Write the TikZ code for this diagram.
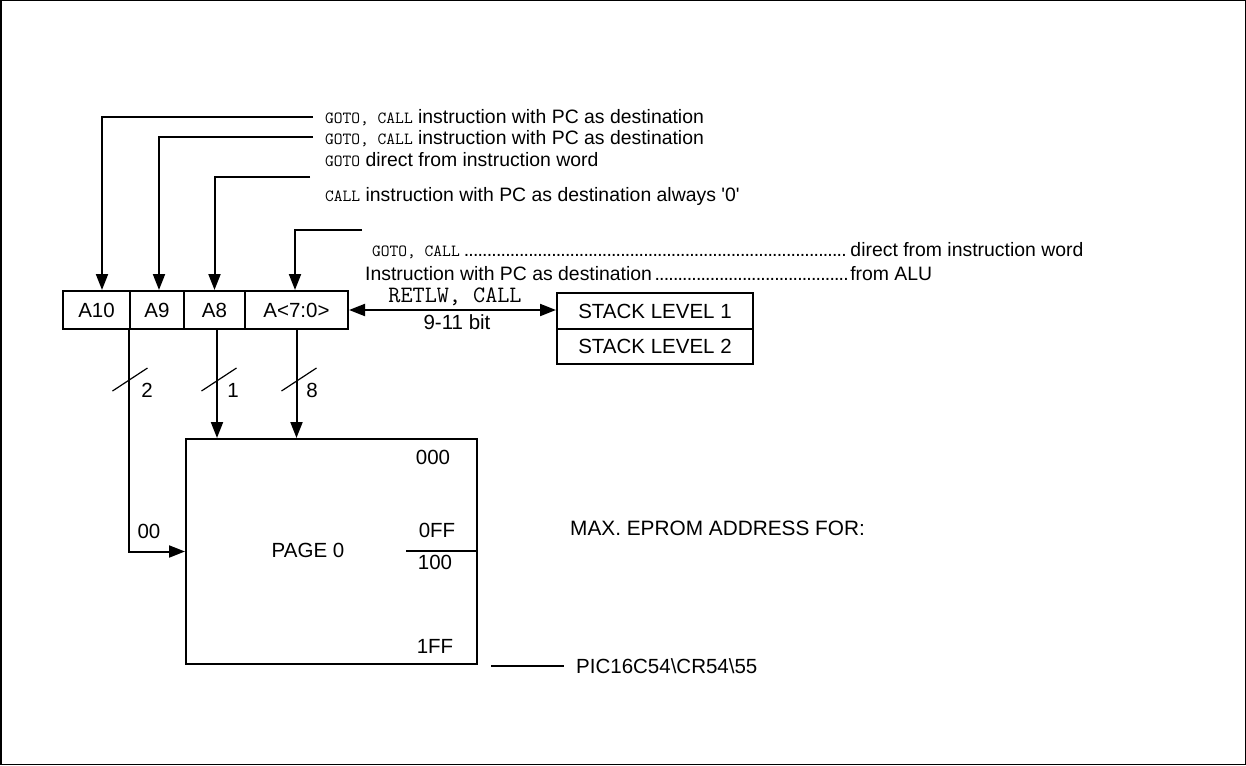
\documentclass[tikz,border=0pt]{standalone}
\usepackage{fontspec}
\setmainfont{Liberation Sans}[Ligatures=TeXOff]
\usetikzlibrary{arrows.meta,calc}
\newcommand\mt[1]{{\fontsize{17}{20}\selectfont\ttfamily #1}}
\newcommand\dotlead{\leaders\hbox to 4.6pt{\hss.\hss}\hfill}
\begin{document}
\begin{tikzpicture}[x=1pt,y=-1pt,
  every node/.style={inner sep=0pt},
  box/.style={draw,line width=2pt,font=\fontsize{20.5}{24}\selectfont,minimum height=38pt},
  lab/.style={font=\fontsize{20.5}{24}\selectfont,text height=14pt,text depth=0pt},
  top/.style={font=\fontsize{19.4}{23}\selectfont,text height=14pt,text depth=0pt,anchor=west},
  wire/.style={line width=2pt},
  arr/.style={line width=2pt,-{Triangle[length=16pt,width=12pt]}},
  darr/.style={line width=2pt,{Triangle[length=16pt,width=12pt]}-{Triangle[length=16pt,width=12pt]}},
  slash/.style={line width=1.2pt}]
\useasboundingbox (0,0) rectangle (1246,765);
\draw[line width=1.5pt] (0.75,0.75) rectangle (1245.25,764.25);

% register
\node[box,minimum width=67pt] (A10) at (96.5,310) {A10};
\node[box,minimum width=54pt] (A9) at (157,310) {A9};
\node[box,minimum width=61pt] (A8) at (214.5,310) {A8};
\node[box,minimum width=103pt] (A70) at (296.5,310) {A<7:0>};

% stack
\node[box,minimum width=196pt,minimum height=36pt] (S1) at (655,311) {STACK LEVEL 1};
\node[box,minimum width=196pt,minimum height=35pt,anchor=north] (S2) at ([yshift=2pt]S1.south) {STACK LEVEL 2};

% page
\node[draw,line width=2pt,minimum width=291pt,minimum height=225pt] (P) at (331.5,551.5) {};
\node[lab] (p0) at (308,550) {PAGE 0};
\node[lab] (a000) at (433,457) {000};
\node[lab] (a0FF) at (437,530) {0FF};
\node[lab] (a100) at (435,562) {100};
\node[lab] (a1FF) at (435,646) {1FF};
\coordinate (sep) at (406,551);
\draw[wire] (sep) -- (sep -| P.east);

% top texts
\node[top] (t1) at (325,116) {\mt{GOTO, CALL} instruction with PC as destination};
\node[top] (t2) at (325,137) {\mt{GOTO, CALL} instruction with PC as destination};
\node[top] (t3) at (325,159) {\mt{GOTO} direct from instruction word};
\node[top] (t4) at (325,194) {\mt{CALL} instruction with PC as destination always '0'};
\node[top] (t5) at (372,249) {\makebox[478pt][l]{\mt{GOTO, CALL}\dotlead}direct from instruction word};
\node[top] (t6) at (365,273) {\makebox[485pt][l]{Instruction with PC as destination\dotlead}from ALU};

\coordinate (e1) at (313,117);
\coordinate (e2) at (313,137);
\coordinate (e3) at (310,177);
\coordinate (e4) at (362,230);
\draw[arr] (e1) -| ([xshift=5.5pt]A10.north);
\draw[arr] (e2) -| ([xshift=2pt]A9.north);
\draw[arr] (e3) -| (A8.north);
\draw[arr] (e4) -| ([xshift=-1.5pt]A70.north);

% stack link
\draw[darr] (A70.east) -- (A70.east -| S1.west);
\node[font=\fontsize{23.5}{26}\selectfont\ttfamily] (rc) at (455,297) {RETLW, CALL};
\node[lab] (bits) at (457,322) {9-11 bit};

% buses down
\draw[arr] (A9.south west) |- (P.west);
\draw[arr] ([xshift=2.5pt]A8.south) -- ([xshift=2.5pt]A8.south |- P.north);
\draw[arr] (A70.south) -- (A70.south |- P.north);

% slashes
\draw[slash] (112.5,391) -- (147.5,368);
\draw[slash] (201.5,391) -- (236.5,368);
\draw[slash] (281.5,391) -- (316.5,368);
\node[lab] (n2) at (147,390) {2};
\node[lab] (n1) at (233,390) {1};
\node[lab] (n8) at (312,390) {8};
\node[lab] (n00) at (149,531) {00};

% right notes
\node[lab,anchor=west,font=\fontsize{20.8}{24}\selectfont] (max) at (570,528) {MAX. EPROM ADDRESS FOR:};
\node[lab,anchor=west] (pic) at (576,666) {PIC16C54\textbackslash CR54\textbackslash 55};
\coordinate (pl) at (491,666);
\draw[wire] (pl) -- ([xshift=-12pt]pic.west);
\end{tikzpicture}
\end{document}
